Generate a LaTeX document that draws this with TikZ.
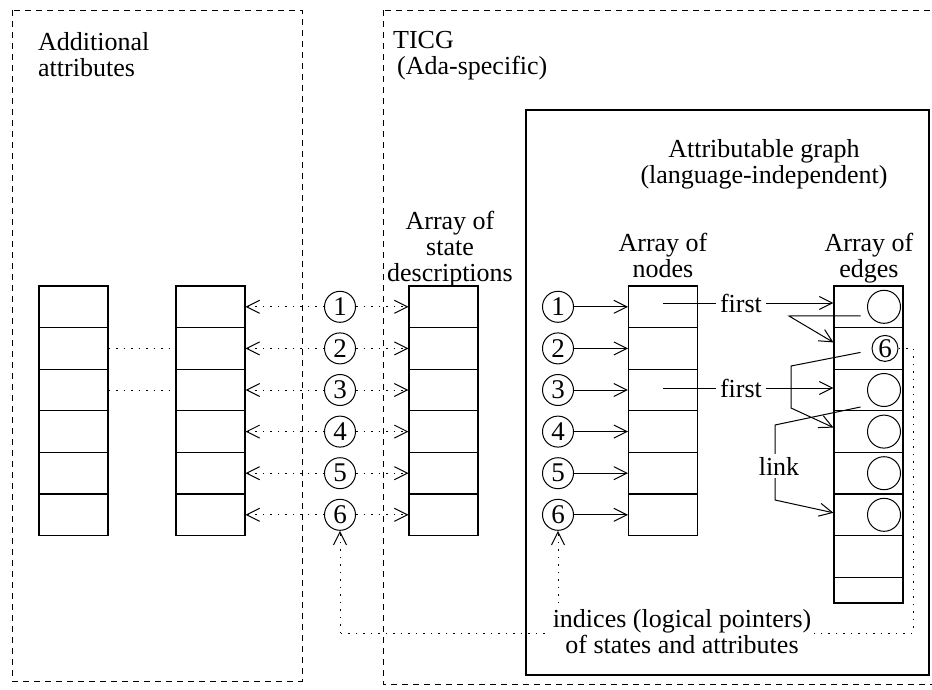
\documentclass[tikz,border=0pt]{standalone}
\usepackage{fontspec}
\setmainfont{Liberation Serif}
\usepackage{tikz}
\usetikzlibrary{shapes,calc,arrows.meta}
\tikzstyle{heading}=[font=\fontsize{26}{26}\selectfont,inner sep=0pt,align=center]
\tikzstyle{cellstyle}=[draw,rectangle,line width=1.1pt,minimum width=69pt,minimum height=41.6pt,inner sep=0pt]
\tikzstyle{idxcircle}=[draw,circle,line width=1pt,minimum size=31pt,inner sep=0pt,font=\fontsize{27}{27}\selectfont]
\tikzstyle{edgecircle}=[draw,circle,line width=1pt,minimum size=33pt,inner sep=0pt]
\tikzstyle{regionbox}=[line width=0.9pt,dash pattern=on 6pt off 5pt]
\tikzstyle{graphbox}=[line width=1.2pt]
\tikzstyle{dotptr}=[line width=1pt,dash pattern=on 1.5pt off 6pt]
\tikzstyle{ptr}=[line width=1pt]

\begin{document}
\begin{tikzpicture}[x=1pt,y=-1pt,>={Straight Barb[length=13pt,width=13pt]}]
  \useasboundingbox (0,0) rectangle (932,690);

  % REGIONS
  \draw[regionbox] (12,10) rectangle (302,681);
  \draw[regionbox] (383,10) rectangle (945,684);
  \draw[graphbox] (526,110) rectangle (929,675);

  % TITLES
  \node[heading,align=left,anchor=north west] (addtitle) at (38,32) {Additional\\attributes};
  \node[heading,align=left,anchor=north west] (ticgtitle) at (393,31) {TICG\\\hspace*{4pt}(Ada-specific)};
  \node[heading,anchor=north] (graphtitle) at (764,139) {Attributable graph\\(language-independent)};
  \node[heading,anchor=north] (sttitle) at (450,211) {Array of\\state\\descriptions};
  \node[heading,anchor=north] (ndtitle) at (663,233) {Array of\\nodes};
  \node[heading,anchor=north] (edtitle) at (869,233) {Array of\\edges};

  % ARRAYS
  \foreach \i in {1,...,6} {
    \node[cellstyle] (xa\i) at (73.5,{265.2+41.6*\i}) {};
    \node[cellstyle] (xb\i) at (210.5,{265.2+41.6*\i}) {};
    \node[cellstyle] (st\i) at (443.5,{265.2+41.6*\i}) {};
    \node[cellstyle] (nd\i) at (663,{265.2+41.6*\i}) {};
    \node[idxcircle] (ca\i) at (340,{265.2+41.6*\i}) {\i};
    \node[idxcircle] (cb\i) at (558,{265.2+41.6*\i}) {\i};
  }
  \foreach \i in {1,...,7} {
    \node[cellstyle] (ed\i) at (868.5,{265.2+41.6*\i}) {};
  }
  \node[cellstyle,minimum height=25.8pt] (ed8) at (868.5,590.1) {};

  % EDGE CONTENTS
  \foreach \i in {1,3,4,5,6} {
    \node[edgecircle] (ce\i) at ($(ed\i.center)+(15.5,0)$) {};
  }
  \node[idxcircle,minimum size=26pt] (ce2) at ($(ed2.center)+(16.5,0)$) {6};

  % POINTERS
  \foreach \i in {1,...,6} {
    \draw[dotptr,->] (ca\i) -- (xb\i.east);
    \draw[dotptr,->] (ca\i) -- (st\i.west);
    \draw[ptr,->] (cb\i) -- (nd\i.west);
  }
  \draw[dotptr] (xa2.east) -- (xb2.west);
  \draw[dotptr] (xa3.east) -- (xb3.west);

  % FIRST
  \node[heading,inner sep=4pt] (first1) at (741,303) {first};
  \node[heading,inner sep=4pt] (first3) at (741,388) {first};
  \draw[ptr] (nd1.center |- first1) -- (first1.west);
  \draw[ptr,->] (first1.east) -- (ed1.west |- first1);
  \draw[ptr] (nd3.center |- first3) -- (first3.west);
  \draw[ptr,->] (first3.east) -- (ed3.west |- first3);

  % LINKS
  \node[heading,inner sep=3pt] (lk) at (779,466) {link};
  \coordinate (lk1) at (789,316);
  \coordinate (lk2a) at (791,366);
  \coordinate (lk2b) at (791,408);
  \coordinate (lk3a) at (775,425);
  \coordinate (lk3b) at (775,500);
  \draw[ptr,->] ($(ed1.center)+(-8,9)$) -- (lk1) -- ($(ed2.west)+(0,-6)$);
  \draw[ptr,->] ($(ed2.center)+(-8,4)$) -- (lk2a) -- (lk2b) -- ($(ed4.west)+(0,-4)$);
  \draw[ptr] ($(ed3.center)+(-8,17)$) -- (lk3a) -- (lk3a |- lk.north);
  \draw[ptr,->] (lk3b |- lk.south) -- (lk3b) -- ($(ed6.west)+(0,-2)$);

  % INDICES
  \coordinate (idxcorner) at (913,633);
  \coordinate (idxend) at (340,633);
  \draw[dotptr] (ce2.east) -| (idxcorner) -- (idxend);
  \draw[dotptr,->] (idxend) -- (ca6);
  \draw[dotptr,->] (cb6 |- idxend) -- (cb6);
  \node[heading,anchor=north,fill=white,inner sep=3pt] (idxtitle) at (682,606) {indices (logical pointers)\\of states and attributes};

\end{tikzpicture}
\end{document}
